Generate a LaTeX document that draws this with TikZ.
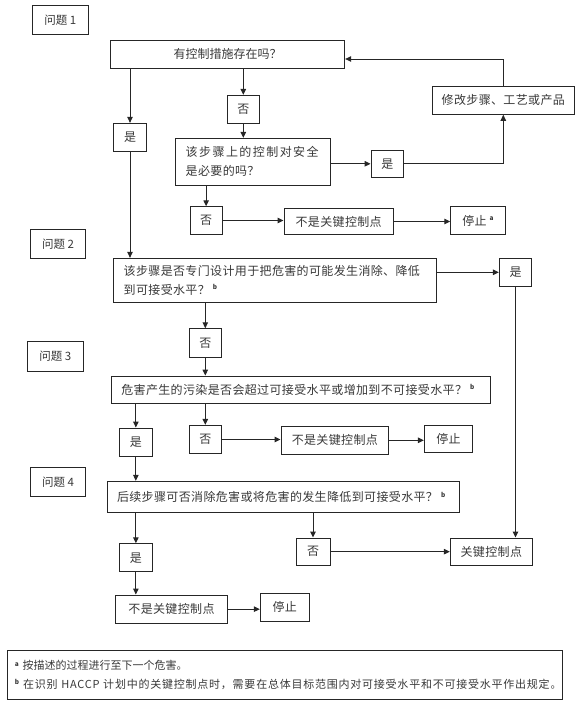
\documentclass[tikz,border=0pt]{standalone}
\usepackage{fontspec}
\setmainfont{Noto Sans CJK SC}
\usetikzlibrary{arrows.meta}
\newcommand\basefs{\fontsize{12}{19}\selectfont}
\newcommand\mainfs{\fontsize{12}{19}\selectfont\addfontfeature{LetterSpace=3}}
\newcommand\labfs{\fontsize{11.5}{14}\selectfont}
\newcommand\footfs{\fontsize{11}{18.3}\selectfont}
\newcommand\supx[1]{\hspace{3pt}\raisebox{4.5pt}{\fontsize{6.5}{6.5}\selectfont\bfseries #1}}
\newcommand\fsup[1]{\raisebox{3.5pt}{\fontsize{6.5}{6.5}\selectfont\bfseries #1}\hspace{4pt}}
\newcommand\bx[6][]{\node[bx,minimum width={(#5-#3)*1pt},minimum height={(#6-#4)*1pt},#1] (#2) at ({(#3+#5)/2},{(#4+#6)/2})}
\tikzset{
  bx/.style={draw=black!85, line width=0.9pt, inner sep=0pt, text=black!78, font=\mainfs},
  arr/.style={draw=black!85, line width=1pt, -{Triangle[length=6pt,width=5.5pt]}},
  ln/.style={draw=black!85, line width=1pt},
  lft/.style={align=left, text width=#1},
}
\begin{document}
\begin{tikzpicture}[x=1pt,y=-1pt]
\useasboundingbox (0,0) rectangle (582,704);
% labels
\bx[font=\labfs]{q1lab}{32.3}{5.3}{88.3}{34.3}{问题 1};
\bx[font=\labfs]{q2lab}{30.3}{229.3}{85.7}{258.3}{问题 2};
\bx[font=\labfs]{q3lab}{27.3}{341.3}{83.3}{371}{问题 3};
\bx[font=\labfs]{q4lab}{30.3}{467.3}{85.7}{496.7}{问题 4};
% question 1
\bx[font=\basefs]{Q1}{110.3}{40.3}{344.7}{68.3}{有控制措施存在吗？};
\bx{yes1}{113.7}{123.3}{146.3}{151.7}{是};
\bx{no1}{227.3}{95.3}{259.3}{123.3}{否};
\bx{mod}{432.3}{86.3}{574.3}{114.3}{修改步骤、工艺或产品};
\bx[lft=134.3pt]{Q1b}{175.7}{138.3}{330}{185.3}{{\addfontfeature{LetterSpace=12}该步骤上的控制对安全}\\是必要的吗？};
\bx{yes1b}{371}{150.3}{403.7}{177.3}{是};
\bx{no1b}{190}{206.7}{222.3}{234.3}{否};
\bx{ncp1}{284}{208.7}{393.3}{234.3}{不是关键控制点};
\bx{stop1}{450.7}{206.7}{505.3}{234.3}{停止\supx{a}};
% question 2
\bx[lft=302.3pt]{Q2}{113.7}{258.3}{436}{302.3}{该步骤是否专门设计用于把危害的可能发生消除、降低\\到可接受水平？\supx{b}};
\bx{yes2}{499.3}{258.3}{531.7}{286.3}{是};
\bx{no2}{189.3}{328.7}{221.3}{357}{否};
% question 3
\bx[lft=359.4pt]{Q3}{111.3}{376}{490.7}{403.3}{危害产生的污染是否会超过可接受水平或增加到不可接受水平？\supx{b}};
\bx{yes3}{119.7}{428}{152}{456.3}{是};
\bx{no3}{189.3}{425.3}{221.3}{453.7}{否};
\bx{ncp3}{281}{426.3}{388.7}{454.3}{不是关键控制点};
\bx{stop3}{424.3}{425.3}{472.7}{452.7}{停止};
% question 4
\bx[lft=332.6pt]{Q4}{107.3}{481.3}{459.3}{512.7}{后续步骤可否消除危害或将危害的发生降低到可接受水平？\supx{b}};
\bx{yes4}{119.7}{543.7}{152}{571.7}{是};
\bx{no4}{296}{538}{330}{565.3}{否};
\bx{ccp}{450.3}{538}{532.3}{565.3}{关键控制点};
\bx{ncp4}{115.3}{595}{227.7}{623.3}{不是关键控制点};
\bx{stop4}{260.3}{593.3}{309.3}{621.3}{停止};
% footnotes
\bx[lft=540.4pt,font=\footfs]{foot}{7.3}{650.7}{562.7}{699.3}{\fsup{a}按描述的过程进行至下一个危害。\\\fsup{b}{\addfontfeature{LetterSpace=7}在识别 HACCP 计划中的关键控制点时，需要在总体目标范围内对可接受水平和不可接受水平作出规定。}};
% connectors
\draw[arr] (Q1.south -| yes1) -- (yes1.north);
\draw[arr] (Q1.south -| no1) -- (no1.north);
\draw[arr] (no1.south) -- (no1.south |- Q1b.north);
\draw[arr] (yes1.south) -- (yes1.south |- Q2.north);
\draw[arr] (mod.north) |- ([yshift=-4.7pt]Q1.east);
\draw[arr] (Q1b.east |- yes1b) -- (yes1b.west);
\draw[arr] (yes1b.east) -| (mod.south);
\draw[arr] (Q1b.south -| no1b) -- (no1b.north);
\draw[arr] (no1b.east) -- (no1b.east -| ncp1.west);
\draw[arr] (ncp1.east) -- (ncp1.east -| stop1.west);
\draw[arr] (Q2.east |- yes2) -- (yes2.west);
\draw[arr] (yes2.south) -- (yes2.south |- ccp.north);
\draw[arr] (Q2.south -| no2) -- (no2.north);
\draw[arr] (no2.south) -- (no2.south |- Q3.north);
\draw[arr] (Q3.south -| yes3) -- (yes3.north);
\draw[arr] (Q3.south -| no3) -- (no3.north);
\draw[arr] (no3.east) -- (no3.east -| ncp3.west);
\draw[arr] (ncp3.east) -- (ncp3.east -| stop3.west);
\draw[arr] (yes3.south) -- (yes3.south |- Q4.north);
\draw[arr] (Q4.south -| yes4) -- (yes4.north);
\draw[arr] (Q4.south -| no4) -- (no4.north);
\draw[arr] (no4.east) -- (no4.east -| ccp.west);
\draw[arr] (yes4.south) -- (yes4.south |- ncp4.north);
\draw[arr] (ncp4.east) -- (ncp4.east -| stop4.west);
\end{tikzpicture}
\end{document}
